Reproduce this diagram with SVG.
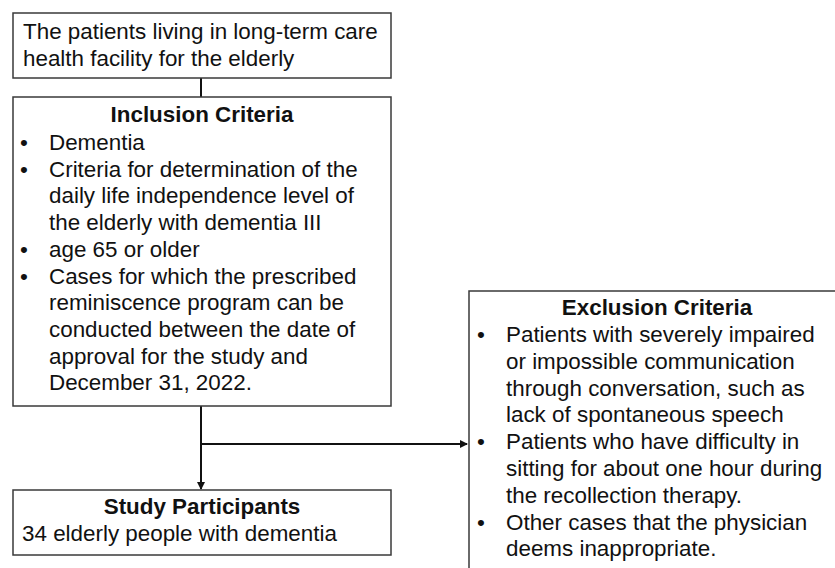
<svg xmlns="http://www.w3.org/2000/svg" width="835" height="568" viewBox="0 0 835 568">
<style>
.box{fill:#fff;stroke:#3a3a3a;stroke-width:1.5}
text{font-family:"Liberation Sans",Arial,sans-serif;font-size:22.4px;fill:#111}
.b{font-weight:bold;text-anchor:middle}
.ln{stroke:#111;stroke-width:2;fill:none}
</style>
<defs>
<marker id="ah" markerWidth="8" markerHeight="8" refX="7" refY="4" orient="auto" markerUnits="userSpaceOnUse">
<path d="M0,0 L8,4 L0,8 Z" fill="#111"/>
</marker>
</defs>
<g id="connectors">
<line class="ln" x1="201" y1="78" x2="201" y2="97"/>
<line class="ln" x1="201" y1="406" x2="201" y2="489" marker-end="url(#ah)"/>
<line class="ln" x1="201" y1="444" x2="467" y2="444" marker-end="url(#ah)"/>
</g>
<g id="population">
<rect class="box" x="13" y="13" width="378" height="65"/>
<text x="23" y="39">The patients living in long-term care</text>
<text x="23" y="66">health facility for the elderly</text>
</g>
<g id="inclusion">
<rect class="box" x="13" y="97" width="378" height="309"/>
<text class="b" x="202" y="122">Inclusion Criteria</text>
<text x="20" y="150">•</text><text x="49" y="150">Dementia</text>
<text x="20" y="176.7">•</text><text x="49" y="176.7">Criteria for determination of the</text>
<text x="49" y="203.4">daily life independence level of</text>
<text x="49" y="230.1">the elderly with dementia III</text>
<text x="20" y="256.8">•</text><text x="49" y="256.8">age 65 or older</text>
<text x="20" y="283.5">•</text><text x="49" y="283.5">Cases for which the prescribed</text>
<text x="49" y="310.2">reminiscence program can be</text>
<text x="49" y="336.9">conducted between the date of</text>
<text x="49" y="363.6">approval for the study and</text>
<text x="49" y="390.3">December 31, 2022.</text>
</g>
<g id="participants">
<rect class="box" x="13" y="490" width="378" height="65"/>
<text class="b" x="202" y="514">Study Participants</text>
<text x="22" y="541">34 elderly people with dementia</text>
</g>
<g id="exclusion">
<rect class="box" x="469" y="291" width="380" height="290"/>
<text class="b" x="657" y="315">Exclusion Criteria</text>
<text x="477" y="342">•</text><text x="506" y="342">Patients with severely impaired</text>
<text x="506" y="368.8">or impossible communication</text>
<text x="506" y="395.6">through conversation, such as</text>
<text x="506" y="422.4">lack of spontaneous speech</text>
<text x="477" y="449.2">•</text><text x="506" y="449.2">Patients who have difficulty in</text>
<text x="506" y="476">sitting for about one hour during</text>
<text x="506" y="502.8">the recollection therapy.</text>
<text x="477" y="529.6">•</text><text x="506" y="529.6">Other cases that the physician</text>
<text x="506" y="556.4">deems inappropriate.</text>
</g>
</svg>
